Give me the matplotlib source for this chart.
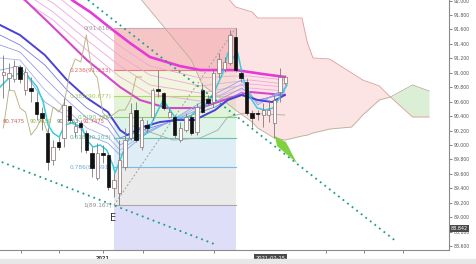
import matplotlib.pyplot as plt
import matplotlib.patches as mpatches
import numpy as np

plt.rcParams['font.family'] = 'DejaVu Sans'

# daily candles (index 0..51)
opens = [90.969, 90.928, 90.914, 91.080, 90.761, 90.789, 90.595, 90.443, 90.166, 89.792,
         90.041, 90.097, 90.540, 90.180, 90.304, 90.166, 89.889, 89.543, 89.889, 89.861,
         89.404, 89.335, 89.695, 90.097, 90.484, 89.972, 90.277, 90.388, 90.775, 90.720,
         90.388, 90.388, 90.069, 90.207, 90.388, 90.180, 90.761, 90.637, 90.595, 90.997,
         91.052, 91.135, 91.496, 90.997, 90.872, 90.443, 90.443, 90.415, 90.415, 90.304,
         90.734, 90.858]
highs = [91.246, 91.135, 91.177, 91.108, 91.066, 90.942, 90.734, 90.526, 90.235, 90.069,
         90.110, 90.651, 90.554, 90.318, 90.346, 90.207, 89.972, 90.027, 90.000, 89.889,
         89.612, 90.069, 90.235, 90.581, 90.595, 90.388, 90.346, 90.789, 91.038, 90.734,
         90.512, 90.415, 90.318, 90.443, 90.415, 90.581, 90.858, 90.692, 91.038, 91.274,
         91.219, 91.592, 91.616, 91.038, 90.928, 90.484, 90.484, 90.581, 90.623, 90.692,
         91.066, 90.969]
lows = [90.651, 90.761, 90.872, 90.858, 90.692, 90.595, 90.346, 90.207, 89.653, 89.723,
        89.930, 89.972, 90.304, 90.110, 89.903, 89.889, 89.556, 89.515, 89.750, 89.376,
        89.279, 89.167, 89.653, 90.069, 90.041, 89.930, 90.180, 90.346, 90.665, 90.484,
        90.374, 90.097, 90.041, 90.180, 90.138, 90.138, 90.443, 90.554, 90.526, 90.928,
        91.011, 91.108, 91.011, 90.872, 90.415, 90.249, 90.346, 90.249, 90.318, 90.097,
        90.595, 90.831]
closes = [91.011, 90.997, 91.094, 90.914, 91.011, 90.748, 90.429, 90.374, 89.764, 89.972,
          89.972, 90.554, 90.346, 90.263, 90.249, 89.930, 89.681, 89.889, 89.861, 89.418,
          89.515, 89.792, 90.069, 90.443, 90.069, 90.346, 90.235, 90.761, 90.748, 90.512,
          90.457, 90.138, 90.235, 90.388, 90.166, 90.526, 90.457, 90.581, 90.997, 91.191,
          91.149, 91.523, 91.038, 90.928, 90.443, 90.374, 90.429, 90.484, 90.484, 90.623,
          90.942, 90.942]

# long-term moving average ribbon
ma_top_x = [11.0, 12.4, 15.7, 19.8, 22.9, 26.5, 31.9, 35.6, 42.1, 46.9, 50.9]
ma_top_y = [92.15, 92.008, 91.842, 91.593, 91.412, 91.219, 91.094, 91.038, 91.038, 90.983, 90.942]
ma_bot_x = [2.0, 3.9, 9.0, 15.1, 21.1, 24.7, 29.6, 35.6, 41.5, 44.6, 50.9]
ma_bot_y = [92.15, 92.008, 91.634, 91.177, 90.803, 90.623, 90.512, 90.512, 90.665, 90.734, 90.692]
ribbon_x = [3.0, 9.0, 15.1, 21.1, 26.5, 35.6, 41.5, 44.6, 50.9]
pink_lines = [
    [92.285, 92.105, 91.731, 91.371, 91.094, 90.928, 90.955, 90.955, 90.900],
    [92.216, 91.966, 91.593, 91.232, 90.969, 90.817, 90.872, 90.900, 90.845],
    [92.147, 91.842, 91.454, 91.094, 90.831, 90.720, 90.803, 90.845, 90.803],
    [92.036, 91.731, 91.316, 90.942, 90.706, 90.609, 90.734, 90.789, 90.748],
]

# short-term ribbon
blue_x = [-0.6, 3.0, 7.5, 11.5, 15.1, 18.9, 21.1, 22.4, 25.2, 28.3, 31.4, 34.6, 38.3,
          40.6, 43.1, 46.0, 48.6, 50.9]
blue_y = [91.662, 91.523, 91.246, 90.900, 90.651, 90.457, 90.207, 90.138, 90.249, 90.318,
          90.346, 90.346, 90.484, 90.623, 90.692, 90.623, 90.595, 90.692]
thin_x = [-0.6, 3.0, 7.5, 11.5, 15.1, 18.9, 21.1, 25.2, 31.4, 38.3, 43.1, 46.0, 50.9]
thin_lines = [
    [91.523, 91.385, 91.108, 90.761, 90.512, 90.346, 90.097, 90.207, 90.346, 90.526, 90.734, 90.623, 90.706],
    [91.385, 91.288, 90.928, 90.623, 90.374, 90.235, 90.000, 90.166, 90.360, 90.595, 90.789, 90.609, 90.734],
    [91.205, 91.177, 90.761, 90.484, 90.235, 90.110, 89.930, 90.138, 90.374, 90.651, 90.845, 90.581, 90.761],
    [91.038, 91.094, 90.595, 90.401, 90.138, 90.027, 89.861, 90.124, 90.388, 90.706, 90.900, 90.554, 90.789],
]
cyan_x = [-0.6, 1.2, 3.0, 4.3, 6.1, 7.2, 8.1, 9.0, 10.1, 11.1, 12.4, 14.2, 15.1, 16.2,
          17.5, 18.7, 19.8, 20.2, 21.1, 22.4, 23.3, 24.2, 25.1, 26.0, 27.1, 28.0, 28.9,
          29.8, 31.0, 32.3, 33.7, 35.0, 37.0, 38.3, 39.7, 40.6, 41.5, 42.4, 43.3, 44.6,
          45.9, 47.3, 48.8, 49.7, 51.3]
cyan_y = [90.803, 90.942, 90.997, 90.969, 90.803, 90.595, 90.277, 90.166, 90.110, 90.277,
          90.304, 90.249, 90.069, 89.972, 90.000, 89.930, 89.723, 89.612, 89.792, 90.041,
          90.180, 90.138, 90.110, 90.180, 90.346, 90.484, 90.623, 90.526, 90.388, 90.374,
          90.388, 90.484, 90.581, 90.761, 90.997, 91.274, 91.205, 91.274, 90.942, 90.665,
          90.512, 90.484, 90.512, 90.623, 90.831]

# ichimoku
kijun_x = [22.9, 26.5, 30.7, 35.6, 38.8, 40.6, 43.7, 50.9]
kijun_y = [90.277, 90.180, 90.069, 90.097, 90.207, 90.388, 90.443, 90.415]
chikou_shift = 26
cloud_x = [23, 25, 28, 31, 34, 36, 39, 42, 45, 46, 49, 51, 54, 55, 56, 59, 63, 65, 68, 70, 74, 77]
span_a = [92.216, 92.008, 91.731, 91.454, 91.177, 90.831, 90.665, 90.484, 90.318, 90.235, 90.097,
          90.069, 90.124, 90.138, 90.166, 90.221, 90.249, 90.415, 90.623, 90.665, 90.831, 90.748]
span_b = [92.562, 92.493, 92.424, 92.354, 92.313, 92.285, 92.174, 91.911, 91.842, 91.759, 91.759,
          91.759, 91.759, 91.412, 91.205, 91.191, 90.997, 90.900, 90.817, 90.665, 90.388, 90.388]
ichi_labels = ['90.7475', '90.9650', '90.2063', '91.7475']
ichi_label_x = [-0.1, 4.8, 9.7, 14.4]
ichi_label_y = 90.33

# fibonacci retracement from candle 20 (low) to candle 42 (high)
fib_start, fib_end = 20, 42
fib_ratios = ['0', '0.236', '0.382', '0.5', '0.618', '0.786', '1']
fib_prices = [91.616, 91.033, 90.677, 90.386, 90.103, 89.691, 89.167]
fib_line_colors = ['#c8a8b8', '#e47a7a', '#b8d468', '#8ccc74', '#6cc4a4', '#80b8e4', '#a8a8a8']
fib_text_colors = ['#a8949c', '#e06a6a', '#a8c850', '#78c060', '#5cb898', '#6aaae0', '#909090']
fib_zone_colors = ['#f4b4b4', '#eef4d4', '#d8f0cc', '#d4f0e4', '#d4e8f4', '#e4e4e4', '#d4d4f6']

# trend lines
trend1_x = [15.3, 71.2]
trend1_y = [92.008, 88.656]
trend2_x = [-0.3, 38.6]
trend2_y = [89.764, 88.615]
wedge_x = [49.1, 51.1, 53.1, 49.5]
wedge_y = [90.124, 90.041, 89.750, 89.986]

xtick_pos = [3.2, 10.1, 18.0, 25.2, 38.1, 58.3, 65.2, 72.3]
xtick_lab = ['', '', '2021', '', '', '', '', '']
last_date_x = 48.3
price_tag = 88.842

fig = plt.figure(figsize=(4.77, 2.64), dpi=100)
ax = fig.add_axes([0, 14/264, 449/477, 250/264])
fig.patches.append(mpatches.Rectangle((0, 0), 1, 5/264, transform=fig.transFigure,
                                      color='#e8e8e8', zorder=0))

idx = np.arange(len(opens))
ylo, yhi = 88.546, 92.008

# fib zones
bounds = fib_prices + [ylo]
for i in range(len(fib_zone_colors)):
    ax.fill_between([fib_start, fib_end], bounds[i + 1], bounds[i],
                    color=fib_zone_colors[i], alpha=0.75, lw=0, zorder=1)
for p, r, lc, tc in zip(fib_prices, fib_ratios, fib_line_colors, fib_text_colors):
    ax.plot([fib_start, fib_end], [p, p], color=lc, lw=0.8, zorder=2)
    ax.text(fib_start - 0.4, p, '%s(%.3f)' % (r, p), ha='right', va='center',
            fontsize=4.2, color=tc, zorder=4)
ax.plot([fib_start, fib_end], [fib_prices[-1], fib_prices[0]], color='#a0a0a0',
        lw=0.7, ls=(0, (2, 2)), zorder=3)

# cloud
sa = np.array(span_a)
sb = np.array(span_b)
ax.fill_between(cloud_x, sa, sb, where=sb >= sa, interpolate=True,
                color='#f8b8bc', alpha=0.38, lw=0, zorder=2)
ax.fill_between(cloud_x, sa, sb, where=sb < sa, interpolate=True,
                color='#c4e4bc', alpha=0.6, lw=0, zorder=2)
ax.plot(cloud_x, span_b, color='#e49a9a', lw=0.6, zorder=2)
ax.plot(cloud_x, span_a, color='#b8b094', lw=0.6, zorder=2)

# ribbons
for ys in pink_lines:
    ax.plot(ribbon_x, ys, color='#f0a4e0', lw=0.6, zorder=3)
ax.plot(ma_bot_x, ma_bot_y, color='#d448cc', lw=1.5, zorder=3)
ax.plot(ma_top_x, ma_top_y, color='#e63ad8', lw=1.9, zorder=3)
for ys, c in zip(thin_lines, ['#7a7ae6', '#9898ee', '#aab0f4', '#88a8f0']):
    ax.plot(thin_x, ys, color=c, lw=0.6, zorder=3)
ax.plot(blue_x, blue_y, color='#4a40d8', lw=1.4, zorder=3)
ax.plot(cyan_x, cyan_y, color='#38ccdc', lw=1.1, zorder=4)
ax.plot(kijun_x, kijun_y, color='#a8a8a8', lw=0.6, zorder=3)
ax.plot(idx[:len(closes) - chikou_shift], closes[chikou_shift:], color='#bdb68a',
        lw=0.7, zorder=3)

for t, xx, c in zip(ichi_labels, ichi_label_x, ['#c0604c', '#8cb048', '#587058', '#e05050']):
    ax.text(xx, ichi_label_y, t, fontsize=3.9, color=c, ha='left', va='center', zorder=4)

# candles
o = np.array(opens)
c = np.array(closes)
up = c >= o
ax.vlines(idx, lows, highs, colors='#7a7a7a', lw=0.6, zorder=5)
ax.bar(idx[up], (c - o)[up], bottom=o[up], width=0.62, color='white',
       edgecolor='#8c6c6c', lw=0.5, zorder=6)
ax.bar(idx[~up], (o - c)[~up], bottom=c[~up], width=0.62, color='#111111',
       edgecolor='#111111', lw=0.5, zorder=6)

# drawings
ax.plot(trend1_x, trend1_y, color='#1f9c8c', lw=1.3, ls=(0, (1, 2.2)), zorder=7)
ax.plot(trend2_x, trend2_y, color='#1f9c8c', lw=1.3, ls=(0, (1, 2.2)), zorder=7)
ax.fill(wedge_x, wedge_y, color='#80d040', lw=0, zorder=7)
ax.text(fib_start - 0.1, 88.99, 'E', fontsize=7, color='#333333', ha='center',
        va='center', zorder=7)

ax.set_xlim(-0.61, 80.6)
ax.set_ylim(ylo, yhi)
for s in ['left', 'top']:
    ax.spines[s].set_visible(False)
for s in ['right', 'bottom']:
    ax.spines[s].set_color('#8a8a8a')
    ax.spines[s].set_linewidth(0.8)

yt = np.arange(88.6, 92.01, 0.2)
ax.yaxis.tick_right()
ax.set_yticks(yt)
ax.set_yticklabels(['%.3f' % v for v in yt])
ax.tick_params(axis='y', labelsize=3.3, colors='#555555', length=2, width=0.5, pad=1.5)
ax.set_xticks(xtick_pos)
ax.set_xticklabels(xtick_lab, fontweight='bold')
ax.tick_params(axis='x', labelsize=3.6, colors='#555555', length=2.5, width=0.5, pad=1.5)
for lab in ax.get_xticklabels():
    lab.set_color('#333333')

ax.text(last_date_x, -0.032, '2021-02-15', transform=ax.get_xaxis_transform(),
        fontsize=3.7, color='white', ha='center', va='center', zorder=8,
        bbox=dict(boxstyle='square,pad=0.25', fc='#4a4a4a', ec='none'))
ax.text(1.004, price_tag, '88.842', transform=ax.get_yaxis_transform(),
        fontsize=3.5, color='white', ha='left', va='center', zorder=8, clip_on=False,
        bbox=dict(boxstyle='square,pad=0.25', fc='#4a4a4a', ec='none'))

fig.savefig('out.png', dpi=100)
